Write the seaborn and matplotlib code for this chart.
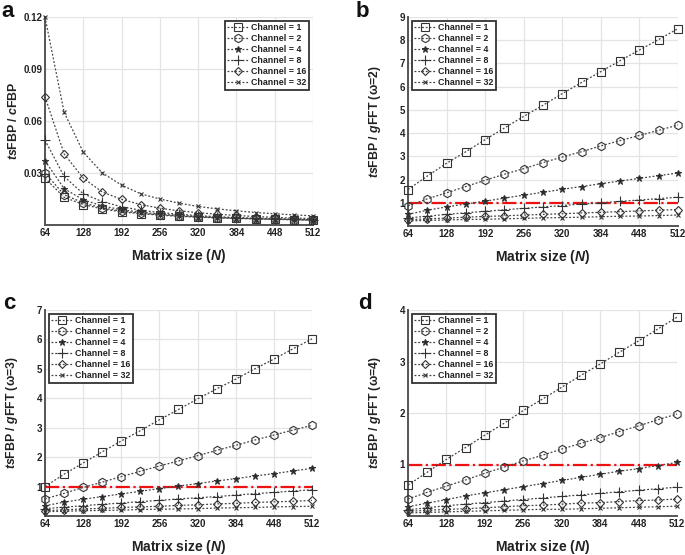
import numpy as np
import pandas as pd
import matplotlib
matplotlib.use("Agg")
import matplotlib.pyplot as plt
import seaborn as sns

sizes = [64, 96, 128, 160, 192, 224, 256, 288, 320, 352, 384, 416, 448, 480, 512]
channels = [1, 2, 4, 8, 16, 32]

# Panel a: tsFBP / cFBP
a_ch1 = [0.027, 0.016, 0.0118, 0.0092, 0.0076, 0.0065, 0.0057, 0.0050, 0.0045, 0.0041, 0.0038, 0.0035, 0.0033, 0.0030, 0.0028]
a_ch2 = [0.030, 0.0175, 0.0128, 0.0098, 0.0080, 0.0068, 0.0059, 0.0052, 0.0047, 0.0042, 0.0039, 0.0036, 0.0033, 0.0031, 0.0029]
a_ch4 = [0.037, 0.021, 0.0145, 0.011, 0.0088, 0.0074, 0.0063, 0.0055, 0.0049, 0.0044, 0.0040, 0.0037, 0.0034, 0.0032, 0.0030]
a_ch8 = [0.049, 0.028, 0.018, 0.0135, 0.0105, 0.0085, 0.0072, 0.0062, 0.0054, 0.0048, 0.0043, 0.0039, 0.0036, 0.0033, 0.0031]
a_ch16 = [0.074, 0.041, 0.027, 0.019, 0.0148, 0.0118, 0.0097, 0.0082, 0.0071, 0.0062, 0.0055, 0.0049, 0.0044, 0.0040, 0.0037]
a_ch32 = [0.120, 0.065, 0.042, 0.030, 0.023, 0.018, 0.015, 0.0126, 0.0107, 0.0093, 0.0082, 0.0072, 0.0065, 0.0058, 0.0053]

# Panel b: tsFBP / gFFT (w=2)
b_ch1 = [1.57, 2.15, 2.70, 3.20, 3.72, 4.22, 4.72, 5.20, 5.70, 6.18, 6.65, 7.12, 7.58, 8.03, 8.50]
b_ch2 = [0.87, 1.17, 1.43, 1.70, 1.97, 2.23, 2.47, 2.73, 2.97, 3.20, 3.45, 3.68, 3.90, 4.12, 4.35]
b_ch4 = [0.50, 0.68, 0.82, 0.95, 1.07, 1.20, 1.33, 1.45, 1.58, 1.70, 1.82, 1.94, 2.05, 2.17, 2.28]
b_ch8 = [0.35, 0.42, 0.50, 0.57, 0.63, 0.70, 0.76, 0.82, 0.88, 0.95, 1.00, 1.06, 1.12, 1.18, 1.24]
b_ch16 = [0.27, 0.31, 0.34, 0.38, 0.41, 0.44, 0.47, 0.50, 0.53, 0.56, 0.59, 0.62, 0.65, 0.68, 0.71]
b_ch32 = [0.22, 0.24, 0.26, 0.28, 0.29, 0.31, 0.33, 0.35, 0.36, 0.38, 0.40, 0.42, 0.43, 0.45, 0.47]

# Panel c: tsFBP / gFFT (w=3)
c_ch1 = [1.00, 1.42, 1.80, 2.18, 2.55, 2.90, 3.27, 3.62, 3.98, 4.32, 4.65, 5.00, 5.33, 5.68, 6.02]
c_ch2 = [0.58, 0.77, 0.97, 1.15, 1.34, 1.52, 1.70, 1.87, 2.05, 2.23, 2.40, 2.58, 2.75, 2.92, 3.08]
c_ch4 = [0.35, 0.47, 0.57, 0.66, 0.75, 0.84, 0.93, 1.02, 1.10, 1.19, 1.27, 1.36, 1.44, 1.53, 1.62]
c_ch8 = [0.25, 0.30, 0.35, 0.40, 0.44, 0.49, 0.53, 0.58, 0.62, 0.66, 0.71, 0.76, 0.80, 0.85, 0.89]
c_ch16 = [0.18, 0.21, 0.24, 0.26, 0.29, 0.31, 0.33, 0.36, 0.38, 0.41, 0.43, 0.46, 0.48, 0.50, 0.53]
c_ch32 = [0.15, 0.16, 0.18, 0.19, 0.20, 0.22, 0.23, 0.24, 0.25, 0.27, 0.28, 0.29, 0.31, 0.32, 0.33]

# Panel d: tsFBP / gFFT (w=4)
d_ch1 = [0.60, 0.85, 1.10, 1.33, 1.57, 1.80, 2.05, 2.27, 2.50, 2.73, 2.95, 3.18, 3.40, 3.63, 3.86]
d_ch2 = [0.33, 0.46, 0.58, 0.70, 0.83, 0.95, 1.07, 1.18, 1.30, 1.41, 1.52, 1.64, 1.75, 1.87, 1.98]
d_ch4 = [0.18, 0.25, 0.32, 0.39, 0.45, 0.51, 0.57, 0.63, 0.69, 0.75, 0.81, 0.87, 0.92, 0.98, 1.04]
d_ch8 = [0.12, 0.16, 0.20, 0.23, 0.26, 0.29, 0.32, 0.35, 0.38, 0.41, 0.44, 0.47, 0.50, 0.53, 0.56]
d_ch16 = [0.09, 0.11, 0.13, 0.14, 0.16, 0.18, 0.20, 0.21, 0.23, 0.25, 0.26, 0.28, 0.30, 0.31, 0.33]
d_ch32 = [0.06, 0.07, 0.08, 0.09, 0.10, 0.11, 0.12, 0.13, 0.13, 0.14, 0.15, 0.16, 0.17, 0.18, 0.19]

x_ticks = [64, 128, 192, 256, 320, 384, 448, 512]
a_yticks = [0.03, 0.06, 0.09, 0.12]
b_yticks = [1, 2, 3, 4, 5, 6, 7, 8, 9]
c_yticks = [1, 2, 3, 4, 5, 6, 7]
d_yticks = [1, 2, 3, 4]

sns.set_theme(style="whitegrid")
plt.rcParams['font.family'] = ['Liberation Sans', 'DejaVu Sans']
plt.rcParams['mathtext.fontset'] = 'custom'
plt.rcParams['mathtext.it'] = 'Liberation Sans:bold:italic'
plt.rcParams['mathtext.rm'] = 'Liberation Sans:bold'
plt.rcParams['mathtext.bf'] = 'Liberation Sans:bold'

fig = plt.figure(figsize=(6.85, 5.55), dpi=100)

W, H = 685, 555
def ax_at(l, t, r, b):
    return fig.add_axes([l / W, 1 - b / H, (r - l) / W, (b - t) / H])

markers = ['s', 'h', '*', '+', 'D', 'x']
msizes = [5.5, 6, 5, 6.5, 4.5, 3.5]
mfcs = ['none', 'none', '#222222', 'none', 'none', 'none']

def panel(ax, series, ylim, yticks, ylabel, legend_loc, hline=False, ylabfmt=None):
    rows = []
    for ch, vals in zip(channels, series):
        for n, v in zip(sizes, vals):
            rows.append({'N': n, 'ratio': v, 'Channel': f'Channel = {ch}'})
    df = pd.DataFrame(rows)
    for i, ch in enumerate(channels):
        sub = df[df['Channel'] == f'Channel = {ch}']
        sns.lineplot(data=sub, x='N', y='ratio', ax=ax, color='#444444', linestyle=(0, (1.5, 1.5)),
                     linewidth=0.9, marker=markers[i], markersize=msizes[i], markerfacecolor=mfcs[i],
                     markeredgecolor='#333333', markeredgewidth=0.8, label=f'Channel = {ch}',
                     clip_on=False, zorder=3)
    if hline:
        ax.axhline(1, color='#ee1111', linestyle='-.', linewidth=1.6, zorder=2)
    ax.set_xlim(64, 512)
    ax.set_ylim(*ylim)
    ax.set_xticks(x_ticks)
    ax.set_yticks(yticks)
    if ylabfmt:
        ax.set_yticklabels([ylabfmt(v) for v in yticks])
    ax.tick_params(axis='both', labelsize=7, pad=2, length=0)
    for lab in ax.get_xticklabels() + ax.get_yticklabels():
        lab.set_fontweight('bold')
        lab.set_color('#222222')
    ax.grid(True, color='#e4e4e4', linewidth=0.9)
    for s in ['top', 'right']:
        ax.spines[s].set_visible(False)
    for s in ['left', 'bottom']:
        ax.spines[s].set_color('#555555')
        ax.spines[s].set_linewidth(1.4)
    ax.set_xlabel(r'Matrix size ($\it{N}$)', fontsize=10, fontweight='bold', labelpad=6.5, color='#222222')
    ax.set_ylabel(ylabel, fontsize=8.8, fontweight='bold', color='#222222')
    wpx = ax.get_position().width * W
    ax.yaxis.set_label_coords(-25 / wpx, 0.5)
    leg = ax.legend(loc=legend_loc, frameon=True, fancybox=False, handlelength=2.4,
                    borderpad=0.3, labelspacing=0.22, handletextpad=0.3, borderaxespad=0.4,
                    prop={'weight': 'bold', 'size': 6.4})
    leg.get_frame().set_edgecolor('#333333')
    leg.get_frame().set_linewidth(1.3)
    leg.get_frame().set_alpha(1)
    for t in leg.get_texts():
        t.set_color('#222222')
    return ax

ax_a = ax_at(45, 17, 313, 225)
panel(ax_a, [a_ch1, a_ch2, a_ch4, a_ch8, a_ch16, a_ch32], (0, 0.12), a_yticks,
      r'$\it{ts}$FBP / $\it{c}$FBP', 'upper right', ylabfmt=lambda v: f'{v:.2f}')
ax_b = ax_at(408, 17, 678, 226)
panel(ax_b, [b_ch1, b_ch2, b_ch4, b_ch8, b_ch16, b_ch32], (0, 9), b_yticks,
      r'$\it{ts}$FBP / $\it{g}$FFT (ω=2)', 'upper left', hline=True)
ax_c = ax_at(45, 310, 312, 516)
panel(ax_c, [c_ch1, c_ch2, c_ch4, c_ch8, c_ch16, c_ch32], (0, 7), c_yticks,
      r'$\it{ts}$FBP / $\it{g}$FFT (ω=3)', 'upper left', hline=True)
ax_d = ax_at(408, 310, 677, 516)
panel(ax_d, [d_ch1, d_ch2, d_ch4, d_ch8, d_ch16, d_ch32], (0, 4), d_yticks,
      r'$\it{ts}$FBP / $\it{g}$FFT (ω=4)', 'upper left', hline=True)

for letter, x, y in [('a', 1, 1), ('b', 356, 1), ('c', 3, 293), ('d', 358, 293)]:
    fig.text(x / W, 1 - y / H, letter, fontsize=16, fontweight='bold', va='top', ha='left', color='#111111')

fig.savefig('out.png', dpi=100)
